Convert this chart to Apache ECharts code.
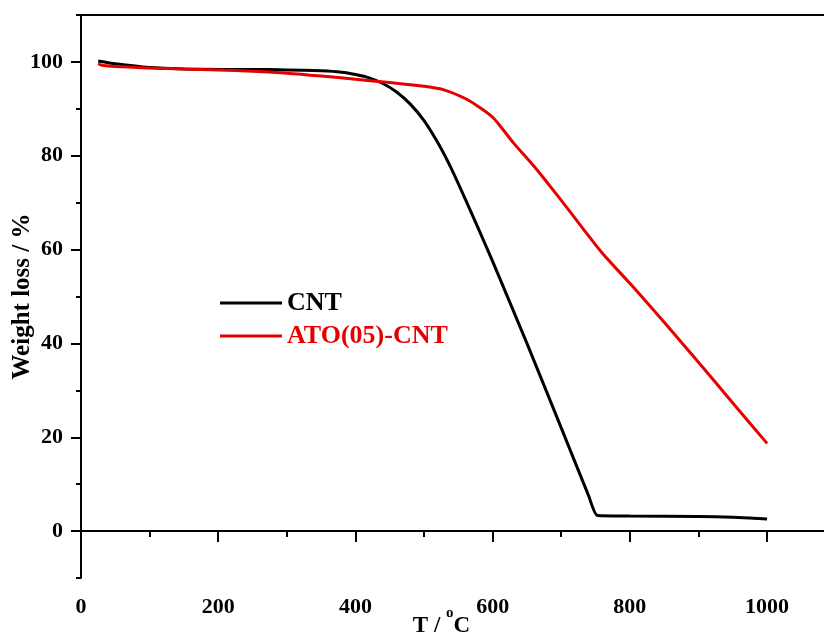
<!DOCTYPE html>
<html>
<head>
<meta charset="utf-8">
<title>TGA curves</title>
<script src="https://cdn.jsdelivr.net/npm/echarts@6/dist/echarts.min.js"></script>
<style>
  html, body { margin: 0; padding: 0; background: #fff; }
  #chart { width: 824px; height: 634px; }
</style>
</head>
<body>
<div id="chart"></div>
<script>
// Thermogravimetric curves: temperature (°C) vs remaining weight (%)
const cntTemp = [25, 50, 100, 150, 200, 250, 300, 350, 380, 400, 420, 440, 460, 480, 500, 520, 540, 560, 580, 600, 650, 700, 740, 753, 800, 900, 950, 1000];
const cntWeight = [100.2, 99.6, 98.8, 98.5, 98.4, 98.4, 98.3, 98.1, 97.8, 97.3, 96.6, 95.4, 93.6, 91.0, 87.5, 82.8, 77.2, 70.8, 64.2, 57.5, 40.0, 22.0, 7.5, 3.3, 3.2, 3.1, 2.95, 2.6];

const atoTemp = [25, 30, 50, 100, 150, 200, 250, 300, 350, 400, 450, 500, 530, 560, 580, 600, 615, 630, 660, 680, 700, 730, 760, 800, 850, 900, 950, 1000];
const atoWeight = [99.6, 99.3, 99.0, 98.7, 98.5, 98.3, 98.0, 97.6, 97.0, 96.3, 95.6, 94.8, 94.0, 92.2, 90.4, 88.2, 85.6, 82.8, 77.8, 74.2, 70.5, 64.8, 59.2, 52.8, 44.5, 36.0, 27.3, 18.7];

const seriesNames = ['CNT', 'ATO(05)-CNT'];

const xMajor = [0, 200, 400, 600, 800, 1000];
const xMinor = [100, 300, 500, 700, 900];
const yMajor = [0, 20, 40, 60, 80, 100];
const yMinor = [-10, 10, 30, 50, 70, 90, 110];

const pairs = (xs, ys) => xs.map((x, i) => [x, ys[i]]);

const FONT = '"Liberation Serif", "Times New Roman", serif';
const RED = '#e60000';
const X_MIN = 0, X_MAX = 1083, Y_MIN = -10, Y_MAX = 110;
const axisLine = { show: true, lineStyle: { color: '#000', width: 2 } };
const plain = v => String(v);

const chart = echarts.init(document.getElementById('chart'), null, { renderer: 'canvas' });

chart.setOption({
  backgroundColor: '#fff',
  animation: false,
  grid: { left: 81, right: 0, top: 15, bottom: 56, containLabel: false, outerBoundsMode: 'none' },
  legend: {
    orient: 'vertical',
    left: 220,
    top: 290,
    padding: 0,
    icon: 'rect',
    itemWidth: 62,
    itemHeight: 3,
    itemGap: 7,
    textStyle: { fontFamily: FONT, fontWeight: 'bold', fontSize: 26 },
    data: [
      { name: seriesNames[0], textStyle: { color: '#000' } },
      { name: seriesNames[1], textStyle: { color: RED } }
    ]
  },
  xAxis: [
    {
      type: 'value', min: X_MIN, max: X_MAX, position: 'bottom',
      axisLine: axisLine,
      axisTick: { show: true, inside: false, customValues: xMinor, length: 6, lineStyle: { color: '#000', width: 2 } },
      axisLabel: { show: false },
      splitLine: { show: false }
    },
    {
      type: 'value', min: X_MIN, max: X_MAX, position: 'bottom',
      axisLine: { show: false },
      axisTick: { show: true, inside: false, customValues: xMajor, length: 11, lineStyle: { color: '#000', width: 2 } },
      axisLabel: {
        show: true, customValues: xMajor, margin: 18, formatter: plain,
        color: '#000', fontFamily: FONT, fontWeight: 'bold', fontSize: 22
      },
      splitLine: { show: false },
      name: '{t|T / }{s|o}{t|C}',
      nameLocation: 'middle',
      nameGap: 28,
      nameMoveOverlap: false,
      nameTextStyle: {
        padding: [0, 22, 0, 0],
        rich: {
          t: { fontFamily: FONT, fontWeight: 'bold', fontSize: 23, color: '#000', lineHeight: 32, verticalAlign: 'bottom' },
          s: { fontFamily: FONT, fontWeight: 'bold', fontSize: 15, color: '#000', verticalAlign: 'top' }
        }
      }
    },
    {
      type: 'value', min: X_MIN, max: X_MAX, position: 'top',
      axisLine: axisLine,
      axisTick: { show: false },
      axisLabel: { show: false },
      splitLine: { show: false }
    }
  ],
  yAxis: [
    {
      type: 'value', min: Y_MIN, max: Y_MAX, position: 'left',
      axisLine: axisLine,
      axisTick: { show: true, inside: false, customValues: yMinor, length: 5, lineStyle: { color: '#000', width: 2 } },
      axisLabel: { show: false },
      splitLine: { show: false }
    },
    {
      type: 'value', min: Y_MIN, max: Y_MAX, position: 'left',
      axisLine: { show: false },
      axisTick: { show: true, inside: false, customValues: yMajor, length: 10, lineStyle: { color: '#000', width: 2 } },
      axisLabel: {
        show: true, customValues: yMajor, margin: 18, formatter: plain,
        color: '#000', fontFamily: FONT, fontWeight: 'bold', fontSize: 22
      },
      splitLine: { show: false },
      name: 'Weight loss / %',
      nameLocation: 'middle',
      nameGap: 46,
      nameMoveOverlap: false,
      nameTextStyle: { fontFamily: FONT, fontWeight: 'bold', fontSize: 25, color: '#000' }
    }
  ],
  series: [
    {
      name: seriesNames[0], type: 'line', xAxisIndex: 0, yAxisIndex: 0,
      data: pairs(cntTemp, cntWeight),
      symbol: 'none', smooth: 0.2,
      color: '#000',
      lineStyle: { color: '#000', width: 3 }
    },
    {
      name: seriesNames[1], type: 'line', xAxisIndex: 0, yAxisIndex: 0,
      data: pairs(atoTemp, atoWeight),
      symbol: 'none', smooth: 0.3,
      color: RED,
      lineStyle: { color: RED, width: 3 }
    }
  ]
});
</script>
</body>
</html>
